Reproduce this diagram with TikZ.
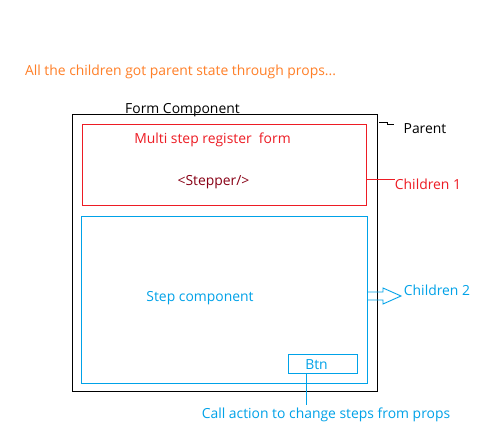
\documentclass[tikz,border=0pt]{standalone}
\usepackage{fontspec}
\setmainfont{Open Sans}
\definecolor{porange}{HTML}{FF7F27}
\definecolor{pred}{HTML}{ED1C24}
\definecolor{pdarkred}{HTML}{880015}
\definecolor{pblue}{HTML}{00A2E8}
\begin{document}
\begin{tikzpicture}[x=1pt,y=-1pt,
  every node/.style={inner sep=0pt, outer sep=0pt},
  lbl/.style={font=\fontsize{13.9}{16}\selectfont, anchor=center},
  box/.style={draw, anchor=north west}]
\useasboundingbox (0,0) rectangle (477,442);
\fill[white] (0,0) rectangle (477,442);
% boxes
\node[box, line width=1pt, black, minimum width=305pt, minimum height=277pt] (outer) at (72,114) {};
\node[box, line width=0.9pt, pred, minimum width=284pt, minimum height=81pt] (redbox) at (82,124) {};
\node[box, line width=0.9pt, pblue, minimum width=286pt, minimum height=167pt] (bluebox) at (81,216) {};
\node[box, line width=0.9pt, pblue, minimum width=69pt, minimum height=19pt] (btn) at (288,354) {};
% texts
\node[lbl, porange] (top) at (180.5,71.5) {All the children got parent state through props...};
\node[lbl, black] (formc) at (182.5,110.5) {Form Component};
\node[lbl, pred] (multi) at (212.5,139.5) {Multi step register\ \ form};
\node[lbl, pdarkred] (stepper) at (213.5,182.5) {<Stepper/>};
\node[lbl, pblue] (stepc) at (200,298.5) {Step component};
\node[lbl, pblue] (btntext) at (316.5,364.5) {Btn};
\node[lbl, black] (parent) at (425,129) {Parent};
\node[lbl, pred] (child1) at (428,184) {Children 1};
\node[lbl, pblue] (child2) at (437,290) {Children 2};
\node[lbl, pblue] (call) at (326,414.5) {Call action to change steps from props};
% connectors
\coordinate (pstart) at (379,122);
\draw[black, line width=0.9pt] (pstart) -- ++(8,0) -- ++(0,2) -- ++(7,0) coordinate (pend);
\draw[pred, line width=0.9pt] (redbox.east |- 0,179) -- (child1.west |- 0,179);
\coordinate (arrbase) at (bluebox.east |- 0,288);
\draw[pblue, line width=0.9pt] ([yshift=-4pt]arrbase) -- ++(16,0) -- ++(0,-4) -- ++(18,8) -- ++(-18,8) -- ++(0,-4) -- ++(-16,0);
\draw[pblue, line width=0.9pt] (btn.south -| 306,0) -- (306,405);
\end{tikzpicture}
\end{document}
